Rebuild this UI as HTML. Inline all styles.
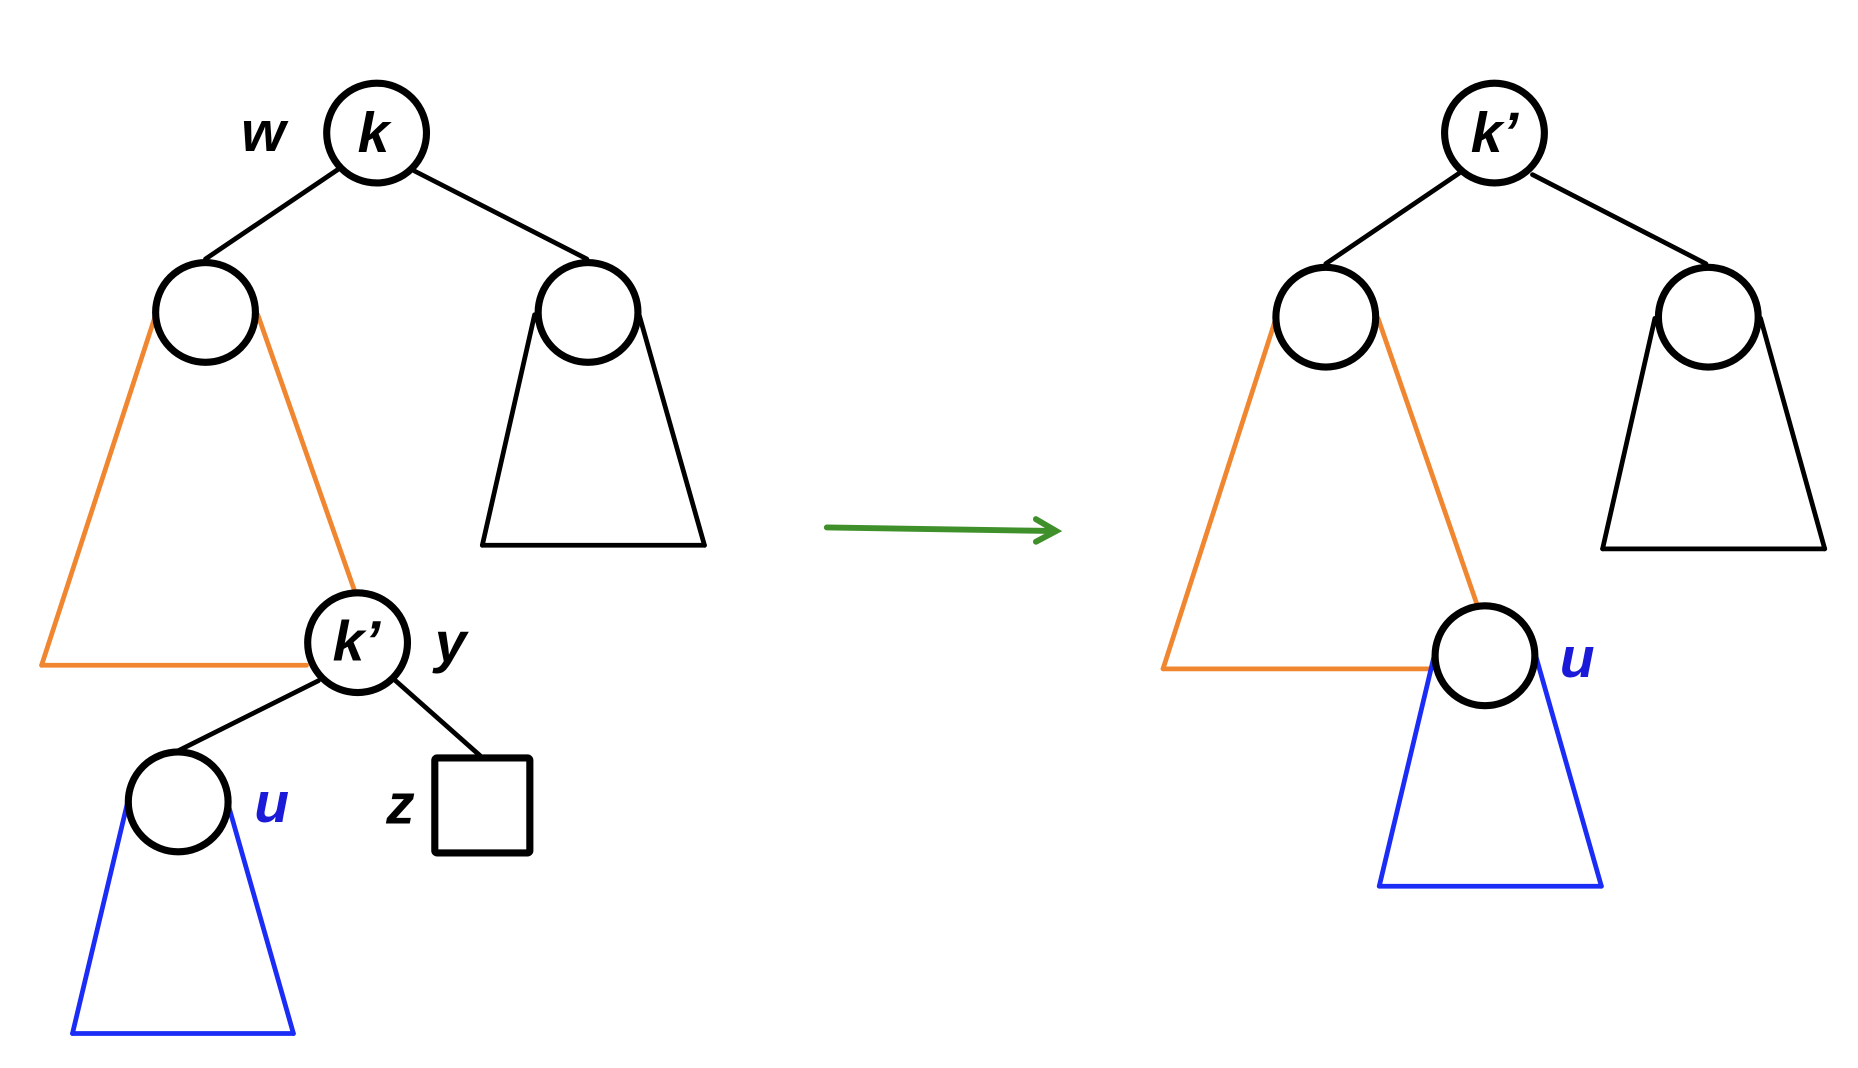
<!DOCTYPE html>
<html><head><meta charset="utf-8"><style>
html,body{margin:0;padding:0;background:#fff;}
svg{display:block;}
text{font-family:"Liberation Sans",sans-serif;font-style:italic;font-weight:bold;font-size:48px;}
</style></head><body>
<svg width="1858" height="1068" viewBox="0 0 1564 899" preserveAspectRatio="none">
<g fill="none" stroke-linecap="round">
  <line x1="284" y1="143" x2="173" y2="218" stroke="#000" stroke-width="4"/>
  <line x1="349" y1="144" x2="494" y2="218" stroke="#000" stroke-width="4"/>
  <g stroke="#000" stroke-width="4">
    <line x1="450" y1="265" x2="406" y2="459"/><line x1="538" y1="265" x2="593" y2="459"/><line x1="406" y1="459" x2="593" y2="459"/>
  </g>
  <g stroke="#f0862f" stroke-width="4">
    <line x1="131" y1="265" x2="35" y2="560"/><line x1="217" y1="265" x2="298" y2="496"/><line x1="35" y1="560" x2="258" y2="560"/>
  </g>
  <g stroke="#1a2cf5" stroke-width="4">
    <line x1="107" y1="677" x2="61" y2="870"/><line x1="192" y1="677" x2="247" y2="870"/><line x1="61" y1="870" x2="247" y2="870"/>
  </g>
  <line x1="268" y1="573" x2="150" y2="632" stroke="#000" stroke-width="4"/>
  <line x1="333" y1="573" x2="404" y2="636" stroke="#000" stroke-width="4"/>
  <circle cx="317" cy="112" r="42" fill="#fff" stroke="#000" stroke-width="6"/>
  <circle cx="173" cy="263" r="42" fill="#fff" stroke="#000" stroke-width="6"/>
  <circle cx="495" cy="263" r="42" fill="#fff" stroke="#000" stroke-width="6"/>
  <circle cx="301" cy="541" r="42" fill="#fff" stroke="#000" stroke-width="6"/>
  <circle cx="150" cy="675" r="42" fill="#fff" stroke="#000" stroke-width="6"/>
  <rect x="366" y="638" width="80" height="80" rx="2" fill="#fff" stroke="#000" stroke-width="6"/>
  <text x="203" y="127" fill="#000" stroke="none">w</text>
  <text x="301" y="128" fill="#000" stroke="none">k</text>
  <text x="280" y="556" fill="#000" stroke="none">k’</text>
  <text x="366" y="557" fill="#000" stroke="none">y</text>
  <text x="214" y="692" fill="#1a1ad8" stroke="none">u</text>
  <text x="325" y="693" fill="#000" stroke="none">z</text>
</g>
<g stroke="#3f8f2b" stroke-width="5" stroke-linecap="round" fill="none">
  <line x1="696" y1="444" x2="888" y2="447"/>
  <polyline points="872,437 889,447 872,456"/>
</g>
<g fill="none" stroke-linecap="round">
  <line x1="1228" y1="146" x2="1116" y2="222" stroke="#000" stroke-width="4"/>
  <line x1="1290" y1="147" x2="1436" y2="222" stroke="#000" stroke-width="4"/>
  <g stroke="#000" stroke-width="4">
    <line x1="1393" y1="268" x2="1349" y2="462"/><line x1="1482" y1="268" x2="1536" y2="462"/><line x1="1349" y1="462" x2="1536" y2="462"/>
  </g>
  <g stroke="#f0862f" stroke-width="4">
    <line x1="1074" y1="268" x2="979" y2="563"/><line x1="1160" y1="268" x2="1243" y2="508"/><line x1="979" y1="563" x2="1205" y2="563"/>
  </g>
  <g stroke="#1a2cf5" stroke-width="4">
    <line x1="1207" y1="553" x2="1161" y2="746"/><line x1="1293" y1="553" x2="1348" y2="746"/><line x1="1161" y1="746" x2="1348" y2="746"/>
  </g>
  <circle cx="1258" cy="112" r="42" fill="#fff" stroke="#000" stroke-width="6"/>
  <circle cx="1116" cy="267" r="42" fill="#fff" stroke="#000" stroke-width="6"/>
  <circle cx="1438" cy="267" r="42" fill="#fff" stroke="#000" stroke-width="6"/>
  <circle cx="1250" cy="552" r="42" fill="#fff" stroke="#000" stroke-width="6"/>
  <text x="1238" y="128" fill="#000" stroke="none">k’</text>
  <text x="1313" y="570" fill="#1a1ad8" stroke="none">u</text>
</g>
</svg>
</body></html>
